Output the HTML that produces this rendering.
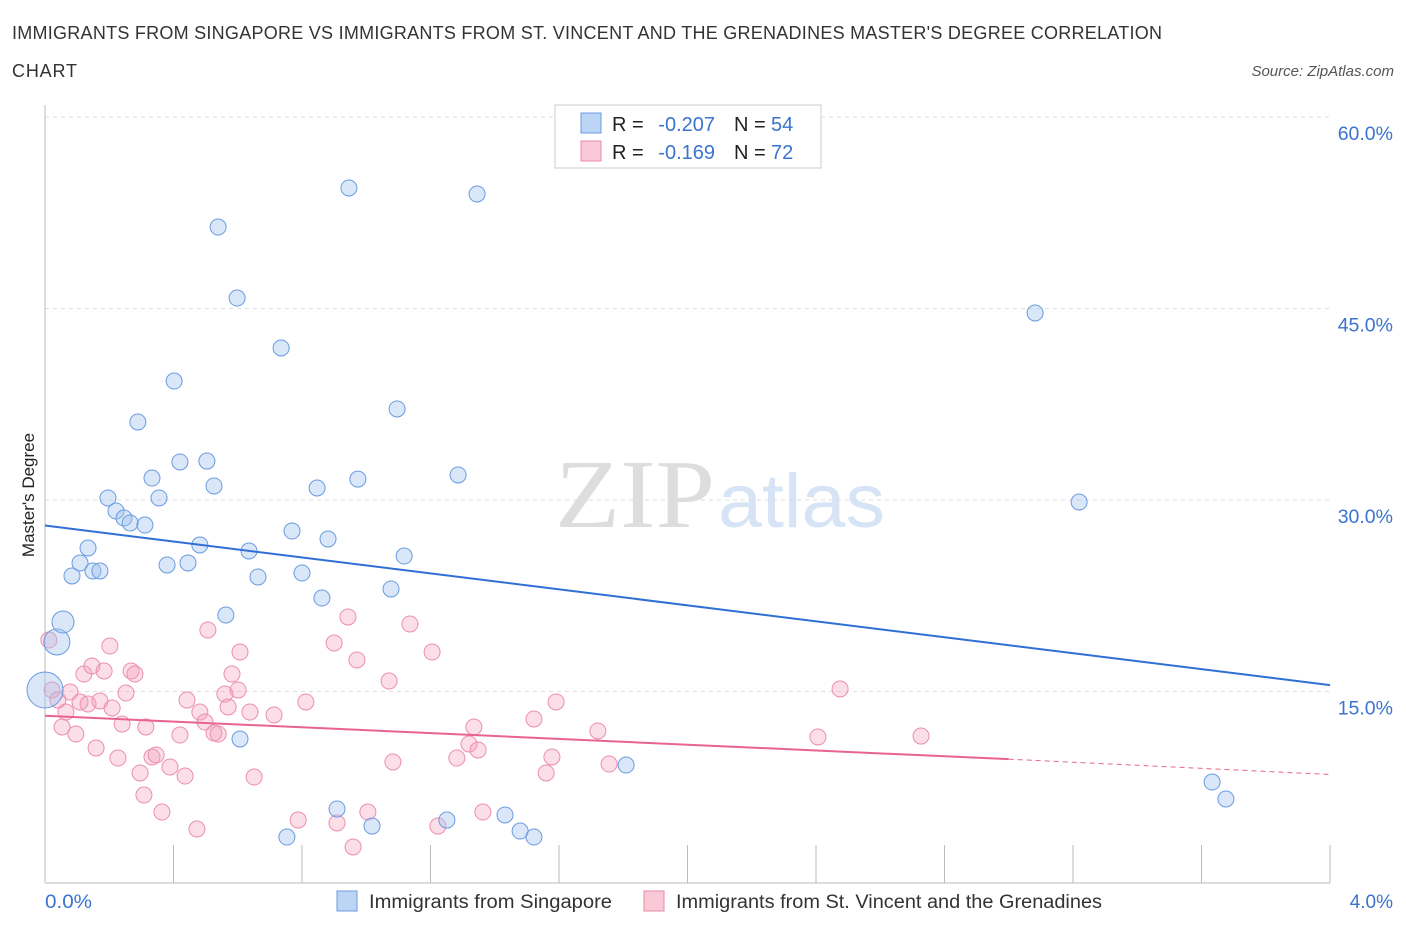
<!DOCTYPE html>
<html><head><meta charset="utf-8"><style>
body{margin:0;background:#fff;font-family:"Liberation Sans",sans-serif}
svg text{font-family:"Liberation Sans",sans-serif}
svg text.serif{font-family:"Liberation Serif",serif}
</style></head><body>
<svg id="c" width="1406" height="930">
<text x="12" y="39" font-size="18" fill="#333" textLength="1150" lengthAdjust="spacing">IMMIGRANTS FROM SINGAPORE VS IMMIGRANTS FROM ST. VINCENT AND THE GRENADINES MASTER'S DEGREE CORRELATION</text>
<text x="12" y="77" font-size="18" fill="#333" textLength="65" lengthAdjust="spacing">CHART</text>
<text x="1394" y="76" font-size="15" font-style="italic" fill="#555" text-anchor="end">Source: ZipAtlas.com</text>
<text class="serif" x="555" y="527" font-size="98" fill="#ddd" textLength="160" lengthAdjust="spacingAndGlyphs">ZIP</text>
<text x="718" y="527" font-size="76" fill="#d6e4f5" textLength="167" lengthAdjust="spacingAndGlyphs">atlas</text>
<text x="34" y="495" font-size="17" fill="#222" text-anchor="middle" transform="rotate(-90 34 495)">Master's Degree</text>
<g id="grid"></g><g id="marks"></g>
<rect x="555" y="105" width="266" height="63" fill="#fff" stroke="#ccc"/>
<rect x="581" y="113" width="20" height="20" fill="#bcd5f5" stroke="#6a9be0"/>
<text x="612" y="131" font-size="20" fill="#222">R =</text>
<text x="715" y="131" font-size="20" fill="#3a73d0" text-anchor="end">-0.207</text>
<text x="734" y="131" font-size="20" fill="#222">N =</text>
<text x="771" y="131" font-size="20" fill="#3a73d0">54</text>
<rect x="581" y="141" width="20" height="20" fill="#f9c9d7" stroke="#e88aa6"/>
<text x="612" y="159" font-size="20" fill="#222">R =</text>
<text x="715" y="159" font-size="20" fill="#3a73d0" text-anchor="end">-0.169</text>
<text x="734" y="159" font-size="20" fill="#222">N =</text>
<text x="771" y="159" font-size="20" fill="#3a73d0">72</text>
<rect x="337" y="891" width="20" height="20" fill="#bcd5f5" stroke="#6a9be0"/>
<text x="369" y="908" font-size="19" fill="#333" textLength="243" lengthAdjust="spacingAndGlyphs">Immigrants from Singapore</text>
<rect x="644" y="891" width="20" height="20" fill="#f9c9d7" stroke="#e88aa6"/>
<text x="676" y="908" font-size="19" fill="#333" textLength="426" lengthAdjust="spacingAndGlyphs">Immigrants from St. Vincent and the Grenadines</text>
<text x="45" y="908" font-size="19" fill="#3a73d0" textLength="47" lengthAdjust="spacingAndGlyphs">0.0%</text>
<text x="1393" y="908" font-size="19" fill="#3a73d0" text-anchor="end">4.0%</text>
</svg>
<script>
const yTicks=[15,30,45,60];
const bluePx=[[45,690,18],[57,642,13],[63,622,11],[72,576],[80,563],[88,548],[93,571],[100,571],[108,498],[116,511],[124,518],[130,523],[145,525],[138,422],[152,478],[159,498],[167,565],[174,381],[180,462],[188,563],[200,545],[207,461],[214,486],[218,227],[226,615],[237,298],[240,739],[249,551],[258,577],[281,348],[287,837],[292,531],[302,573],[317,488],[322,598],[328,539],[337,809],[349,188],[358,479],[372,826],[391,589],[397,409],[404,556],[447,820],[458,475],[477,194],[505,815],[520,831],[534,837],[626,765],[1035,313],[1079,502],[1212,782],[1226,799]];
const pinkPx=[[49,640],[52,690],[58,700],[62,727],[66,712],[70,692],[76,734],[80,702],[84,674],[88,704],[92,666],[96,748],[100,701],[104,671],[110,646],[112,708],[118,758],[122,724],[126,693],[131,671],[135,674],[140,773],[144,795],[146,727],[152,757],[156,755],[162,812],[170,767],[180,735],[185,776],[187,700],[197,829],[200,712],[205,722],[208,630],[214,733],[218,734],[225,694],[228,707],[232,674],[238,690],[240,652],[250,712],[254,777],[274,715],[298,820],[306,702],[334,643],[337,823],[348,617],[353,847],[357,660],[368,812],[389,681],[393,762],[410,624],[432,652],[438,826],[457,758],[469,744],[474,727],[478,750],[483,812],[534,719],[546,773],[552,757],[556,702],[598,731],[609,764],[818,737],[840,689],[921,736]];
const blueX=bluePx.map(p=>+((p[0]-45)/1285*4).toFixed(3));
const blueY=bluePx.map(p=>+((883-p[1])/766*60).toFixed(2));
const blueR=bluePx.map(p=>p[2]||8);
const pinkX=pinkPx.map(p=>+((p[0]-45)/1285*4).toFixed(3));
const pinkY=pinkPx.map(p=>+((883-p[1])/766*60).toFixed(2));
const blueTrend=[[0,28.0],[4,15.5]];
const pinkTrend=[[0,13.1],[3,9.7],[4,8.5]];
const NS='http://www.w3.org/2000/svg';
const sx=v=>45+v/4*1285, sy=v=>883-v/60*766;
function el(t,a,p){const e=document.createElementNS(NS,t);for(const k in a)e.setAttribute(k,a[k]);p.appendChild(e);return e;}
const g=document.getElementById('grid'),m=document.getElementById('marks');
yTicks.forEach(t=>{
 const l=el('line',{x1:45,x2:1330,y1:sy(t),y2:sy(t),stroke:'#ddd','stroke-dasharray':'4 4'},g);
 
 
 const tx=el('text',{x:1393,y:sy(t)+23,'font-size':19.5,fill:'#3a73d0','text-anchor':'end'},g);
 tx.textContent=t.toFixed(1)+'%';
 
 
});
const ax=el('line',{x1:45,x2:45,y1:105,y2:883,stroke:'#bbb'},g);


const bx=el('line',{x1:45,x2:1330,y1:883,y2:883,stroke:'#bbb'},g);


for(let i=0;i<=10;i++){
 const t=el('line',{x1:sx(i*0.4),x2:sx(i*0.4),y1:845,y2:883,stroke:'#bbb'},g);
 
 
}
pinkX.forEach((x,i)=>{
 const c=el('circle',{cx:sx(x),cy:sy(pinkY[i]),r:8,fill:'rgba(244,160,188,0.35)',stroke:'#ec8fac','stroke-width':1},m);
 
 
});
blueX.forEach((x,i)=>{
 const c=el('circle',{cx:sx(x),cy:sy(blueY[i]),r:blueR[i],fill:'rgba(160,195,240,0.4)',stroke:'#6a9be0','stroke-width':1},m);
 
 
});
const bl=el('line',{x1:sx(blueTrend[0][0]),y1:sy(blueTrend[0][1]),x2:sx(blueTrend[1][0]),y2:sy(blueTrend[1][1]),stroke:'#2f6fd6','stroke-width':2},m);


const pl=el('line',{x1:sx(pinkTrend[0][0]),y1:sy(pinkTrend[0][1]),x2:sx(pinkTrend[1][0]),y2:sy(pinkTrend[1][1]),stroke:'#e8638f','stroke-width':2},m);


const pd=el('line',{x1:sx(pinkTrend[1][0]),y1:sy(pinkTrend[1][1]),x2:sx(pinkTrend[2][0]),y2:sy(pinkTrend[2][1]),stroke:'#e8638f','stroke-width':1,'stroke-dasharray':'5 4'},m);


</script>
</body></html>
